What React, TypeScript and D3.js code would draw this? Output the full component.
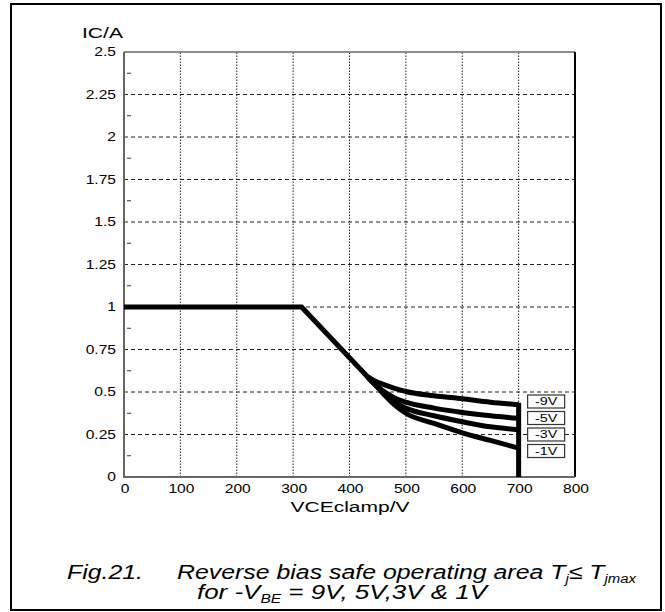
import React from "react";
import * as d3 from "d3";

// ---- data ----
const xTicks = [0, 100, 200, 300, 400, 500, 600, 700, 800];
const yTicks = [0, 0.25, 0.5, 0.75, 1, 1.25, 1.5, 1.75, 2, 2.25, 2.5];
const yMinorTicks = [0.125, 0.375, 0.625, 0.875, 1.125, 1.375, 1.625, 1.875, 2.125, 2.375];

// common part of the RBSOA boundary (V, A)
const commonV = [0, 315, 432];
const commonI = [1, 1, 0.59];

// curves beyond the split point
const curveV = [432, 445, 460, 480, 500, 550, 600, 650, 700];
const vbe9 = [0.59, 0.565, 0.545, 0.522, 0.503, 0.478, 0.46, 0.44, 0.425];
const vbe5 = [0.59, 0.545, 0.505, 0.465, 0.44, 0.405, 0.38, 0.36, 0.345];
const vbe3 = [0.59, 0.545, 0.495, 0.44, 0.405, 0.36, 0.325, 0.295, 0.278];
const vbe1 = [0.59, 0.545, 0.49, 0.425, 0.375, 0.315, 0.26, 0.215, 0.17];
const seriesLabels = ["-9V", "-5V", "-3V", "-1V"];
const seriesValues = [vbe9, vbe5, vbe3, vbe1];
const clampV = 700;

const W = 665;
const H = 612;
const font = "'Liberation Sans', Arial, Helvetica, sans-serif";
const narrow = "'Liberation Sans Narrow', 'Arial Narrow', 'Liberation Sans', Arial, sans-serif";

export default function App() {
  const x = d3.scaleLinear().domain([0, 800]).range([124, 575]);
  const y = d3.scaleLinear().domain([0, 2.5]).range([477, 52]);
  const [x0, x1] = x.range();
  const [yb, yt] = y.range();

  const line = d3
    .line<[number, number]>()
    .x((d) => x(d[0]))
    .y((d) => y(d[1]));
  const curve = d3
    .line<[number, number]>()
    .x((d) => x(d[0]))
    .y((d) => y(d[1]))
    .curve(d3.curveMonotoneX);

  const commonPts: [number, number][] = commonV.map((v, i) => [v, commonI[i]]);

  return (
    <svg
      width={W}
      height={H}
      style={{ position: "absolute", left: 0, top: 0, background: "#fff" }}
    >
      <rect x={0} y={0} width={W} height={H} fill="#fff" />
      {/* outer frame */}
      <rect x={11} y={4} width={650} height={606} fill="none" stroke="#000" strokeWidth={2} />

      {/* grid */}
      {yTicks
        .filter((v) => v > 0 && v < 2.5)
        .map((v) => (
          <line
            key={"hg" + v}
            x1={x0}
            x2={x1}
            y1={y(v)}
            y2={y(v)}
            stroke="#222"
            strokeWidth={1}
            strokeDasharray="4,3"
          />
        ))}
      {xTicks
        .filter((v) => v > 0 && v < 800)
        .map((v) => (
          <line
            key={"vg" + v}
            x1={x(v)}
            x2={x(v)}
            y1={yb}
            y2={yt}
            stroke="#222"
            strokeWidth={1}
            strokeDasharray="1.5,1.5"
          />
        ))}
      {/* minor ticks */}
      {yMinorTicks.map((v) => (
        <line key={"mt" + v} x1={x0 + 3} x2={x0 + 7} y1={y(v)} y2={y(v)} stroke="#333" strokeWidth={1} />
      ))}

      {/* plot frame */}
      <line x1={x0} x2={x1} y1={yt} y2={yt} stroke="#666" strokeWidth={1.5} />
      <line x1={x1} x2={x1} y1={yt} y2={yb} stroke="#000" strokeWidth={2} />
      <line x1={x0} x2={x0} y1={yt} y2={yb + 1} stroke="#666" strokeWidth={2} />
      <line x1={x0} x2={x1} y1={yb} y2={yb} stroke="#666" strokeWidth={2} />

      {/* curves */}
      <path d={line(commonPts) || ""} fill="none" stroke="#000" strokeWidth={5} strokeLinejoin="miter" />
      {seriesValues.map((vals, k) => (
        <path
          key={"s" + k}
          d={curve(curveV.map((v, i) => [v, vals[i]] as [number, number])) || ""}
          fill="none"
          stroke="#000"
          strokeWidth={5}
        />
      ))}
      <line
        x1={x(clampV)}
        x2={x(clampV)}
        y1={y(vbe9[vbe9.length - 1]) - 2}
        y2={y(0)}
        stroke="#000"
        strokeWidth={5}
      />

      {/* series label boxes */}
      {seriesLabels.map((lab, i) => {
        const cy = 401.5 + i * 16.5;
        const bx = x(clampV) + 9;
        return (
          <g key={"lb" + lab}>
            <rect x={bx} y={cy - 6.5} width={37} height={13} fill="#fff" stroke="#333" strokeWidth={1.2} />
            <g transform={`translate(${bx + 18.5},${cy}) scale(1.25,1)`}>
              <text textAnchor="middle" dominantBaseline="central" fontFamily={font} fontSize={11.5} fill="#000">
                {lab}
              </text>
            </g>
          </g>
        );
      })}

      {/* y tick labels */}
      {yTicks.map((v) => (
        <g key={"yl" + v} transform={`translate(116,${y(v)}) scale(1.3,1)`}>
          <text textAnchor="end" dominantBaseline="central" fontFamily={font} fontSize={12} fill="#000">
            {String(v)}
          </text>
        </g>
      ))}
      {/* x tick labels */}
      {xTicks.map((v) => (
        <g key={"xl" + v} transform={`translate(${x(v) + 1},493) scale(1.3,1)`}>
          <text textAnchor="middle" fontFamily={font} fontSize={12} fill="#000">
            {String(v)}
          </text>
        </g>
      ))}

      {/* axis titles */}
      <text x={82} y={38} fontFamily={font} fontSize={14} textLength={41} lengthAdjust="spacingAndGlyphs" fill="#000">
        IC/A
      </text>
      <text
        x={x(400) - 59}
        y={512}
        fontFamily={font}
        fontSize={14}
        textLength={119}
        lengthAdjust="spacingAndGlyphs"
        fill="#000"
      >
        VCEclamp/V
      </text>

      {/* caption */}
      <text x={67} y={579} fontFamily={narrow} fontStyle="italic" fontSize={20} textLength={76} lengthAdjust="spacingAndGlyphs" fill="#000">
        Fig.21.
      </text>
      <text x={177} y={579} fontFamily={narrow} fontStyle="italic" fontSize={20} textLength={459} lengthAdjust="spacingAndGlyphs" fill="#000">
        {"Reverse bias safe operating area T"}
        <tspan dy={4} fontSize={12}>j</tspan>
        <tspan dy={-4}>{"≤ T"}</tspan>
        <tspan dy={4} fontSize={12}>jmax</tspan>
      </text>
      <text x={197} y={599} fontFamily={narrow} fontStyle="italic" fontSize={20} textLength={290} lengthAdjust="spacingAndGlyphs" fill="#000">
        {"for -V"}
        <tspan dy={4} fontSize={12}>BE</tspan>
        <tspan dy={-4}>{" = 9V, 5V,3V & 1V"}</tspan>
      </text>
    </svg>
  );
}
